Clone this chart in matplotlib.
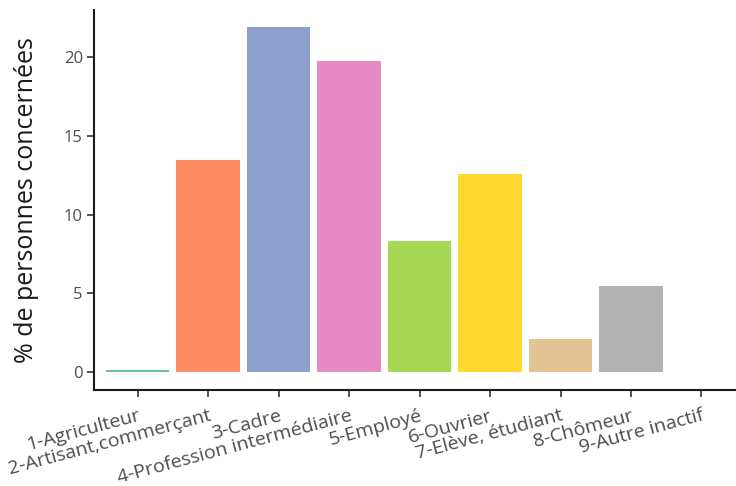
import matplotlib
matplotlib.use("Agg")
import matplotlib.pyplot as plt
import numpy as np

plt.rcParams['font.family'] = ['Open Sans', 'DejaVu Sans']

# categories socio-professionnelles
categories = ["1-Agriculteur", "2-Artisant,commerçant", "3-Cadre",
              "4-Profession intermédiaire", "5-Employé", "6-Ouvrier",
              "7-Elève, étudiant", "8-Chômeur", "9-Autre inactif"]
pourcentages = [0.13, 13.45, 21.9, 19.75, 8.35, 12.6, 2.1, 5.45, 0.0]
couleurs = ["#66c2a5", "#fc8d62", "#8da0cb", "#e78ac3", "#a6d854",
            "#ffd92f", "#e5c494", "#b3b3b3", "#b3b3b3"]

fig = plt.figure(figsize=(7.36, 4.86), dpi=100)
ax = fig.add_axes([94 / 736, 1 - 390 / 486, (736 - 94) / 736, (390 - 10) / 486])

x = np.arange(1, len(categories) + 1)
ax.bar(x, pourcentages, width=0.9, color=couleurs, linewidth=0)

ax.set_xlim(0.38, 9.49)
ax.set_ylim(-1.14, 23.0)
ax.set_yticks([0, 5, 10, 15, 20])
ax.set_xticks(x)
ax.set_xticklabels(categories, rotation=15, ha="right", va="top", rotation_mode="anchor")

ax.tick_params(axis="both", labelcolor="#4d4d4d", length=5, width=1.2, color="#333333")
ax.tick_params(axis="x", labelsize=14, pad=7)
ax.tick_params(axis="y", labelsize=12, pad=3)
ax.set_ylabel("% de personnes concernées", fontsize=18, color="#1a1a1a", labelpad=18)

for s in ["top", "right"]:
    ax.spines[s].set_visible(False)
for s in ["left", "bottom"]:
    ax.spines[s].set_linewidth(1.5)
    ax.spines[s].set_color("#1a1a1a")

fig.savefig("out.png", dpi=100)
